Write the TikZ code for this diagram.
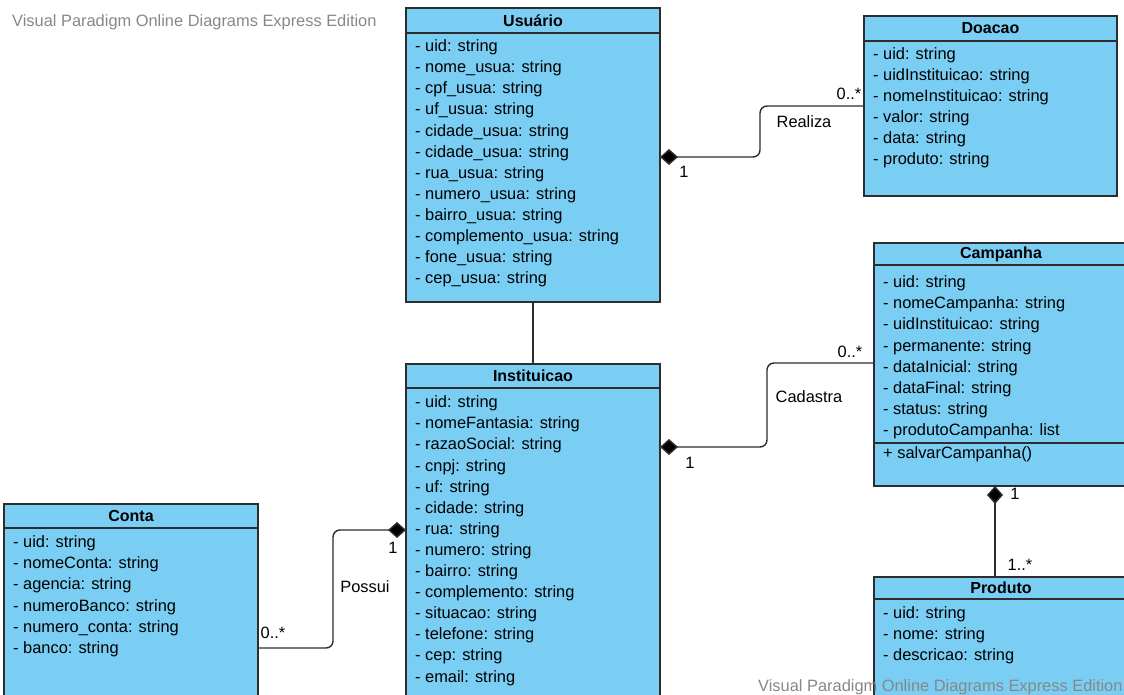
\documentclass[tikz,border=0pt]{standalone}
\usepackage{fontspec}
\setmainfont{Liberation Sans}
\usetikzlibrary{arrows.meta,calc}
\definecolor{classfill}{RGB}{122,206,244}
\definecolor{classline}{RGB}{45,45,45}
\definecolor{wmgray}{RGB}{135,135,135}
\tikzset{
    head/.style={draw=classline, fill=classfill, line width=1.2pt, anchor=north west, inner sep=0pt, outer sep=0pt, minimum width=254, font=\fontsize{16}{18}\selectfont\bfseries},
    classbox/.style={draw=classline, fill=classfill, line width=1.2pt, anchor=north west, inner sep=0pt, outer sep=0pt, minimum width=254},
    attr/.style={anchor=base west, inner sep=0pt, font=\fontsize{16.4}{18}\selectfont},
    lbl/.style={inner sep=0pt, font=\fontsize{16.4}{18}\selectfont},
    assoc/.style={draw=classline, line width=1.4pt, rounded corners=7pt},
    comp/.style={assoc, -{Diamond[length=18pt, width=16pt, fill=black]}},
    watermark/.style={anchor=west, inner sep=0pt, text=wmgray, font=\fontsize{16.4}{18}\selectfont}
}
\begin{document}
\begin{tikzpicture}[x=1pt, y=-1pt]
                \useasboundingbox (0,0) rectangle (1124,695);
                \clip (0,0) rectangle (1124,695);
                \node[watermark] (wmTop) at (12,22) {Visual Paradigm Online Diagrams Express Edition};

                % Usuario
                \node[head, minimum height=25] (usuario) at (406,8) {Usuário};
                \node[classbox, minimum height=269] (usuarioBody) at (usuario.south west) {};
                \foreach[count=\x] \a in {uid, nome\_usua, cpf\_usua, uf\_usua, cidade\_usua, cidade\_usua, rua\_usua, numero\_usua, bairro\_usua, complemento\_usua, fone\_usua, cep\_usua}
                {
                    \node[attr] (u\x) at (415, 30.6+21.1*\x) {- \a: string};
                }

                % Doacao
                \node[head, minimum width=253, minimum height=25] (doacao) at (864,16) {Doacao};
                \node[classbox, minimum width=253, minimum height=155] (doacaoBody) at (doacao.south west) {};
                \foreach[count=\x] \a in {uid, uidInstituicao, nomeInstituicao, valor, data, produto}
                {
                    \node[attr] (d\x) at (873, 38.7+21*\x) {- \a: string};
                }

                % Campanha
                \node[head, minimum height=22] (campanha) at (874,243) {Campanha};
                \node[classbox, minimum height=178] (campanhaBody) at (campanha.south west) {};
                \node[classbox, minimum height=43] (campanhaOps) at (campanhaBody.south west) {};
                \foreach[count=\x] \a in {uid: string, nomeCampanha: string, uidInstituicao: string, permanente: string, dataInicial: string, dataFinal: string, status: string, produtoCampanha: list}
                {
                    \node[attr] (c\x) at (883, 266.6+21.1*\x) {- \a};
                }
                \node[attr] (c9) at (883,458.7) {+ salvarCampanha()};

                % Produto
                \node[head, minimum height=22] (produto) at (874,577) {Produto};
                \node[classbox, minimum height=130] (produtoBody) at (produto.south west) {};
                \foreach[count=\x] \a in {uid, nome, descricao}
                {
                    \node[attr] (p\x) at (883, 597.6+21.1*\x) {- \a: string};
                }

                % Instituicao
                \node[head, minimum height=24] (inst) at (406,364) {Instituicao};
                \node[classbox, minimum height=340] (instBody) at (inst.south west) {};
                \foreach[count=\x] \a in {uid, nomeFantasia, razaoSocial, cnpj, uf, cidade, rua, numero, bairro, complemento, situacao, telefone, cep, email}
                {
                    \node[attr] (i\x) at (415, 386.6+21.1*\x) {- \a: string};
                }

                % Conta
                \node[head, minimum height=24] (conta) at (4,504) {Conta};
                \node[classbox, minimum height=200] (contaBody) at (conta.south west) {};
                \foreach[count=\x] \a in {uid, nomeConta, agencia, numeroBanco, numero\_conta, banco}
                {
                    \node[attr] (k\x) at (13, 526.6+21.1*\x) {- \a: string};
                }

                % associations
                \draw[assoc] (usuarioBody.south) -- (inst.north);
                \draw[comp] ($(doacaoBody.north west)+(0,65)$) -| (760,131) |- ($(usuarioBody.north east)+(0,124)$);
                \draw[comp] ($(campanha.south west)+(0,98)$) -| (767,400) |- ($(instBody.north east)+(0,59)$);
                \draw[comp] ($(contaBody.north east)+(0,120)$) -| (333,590) |- ($(instBody.north west)+(0,142)$);
                \draw[comp] ($(produto.north west)+(121,0)$) -- ($(campanhaOps.south west)+(121,0)$);

                \node[lbl] (realiza) at (804,122) {Realiza};
                \node[lbl] (realizaMany) at (849,94) {0..*};
                \node[lbl] (realizaOne) at (684,172) {1};
                \node[lbl] (cadastra) at (809,397) {Cadastra};
                \node[lbl] (cadastraMany) at (850,352) {0..*};
                \node[lbl] (cadastraOne) at (690,463) {1};
                \node[lbl] (possui) at (365,587) {Possui};
                \node[lbl] (possuiMany) at (273,633) {0..*};
                \node[lbl] (possuiOne) at (393,548) {1};
                \node[lbl] (temOne) at (1015,494) {1};
                \node[lbl] (temMany) at (1020,565) {1..*};

                \node[watermark] (wmBottom) at (758,687) {Visual Paradigm Online Diagrams Express Edition};
            \end{tikzpicture}
\end{document}
